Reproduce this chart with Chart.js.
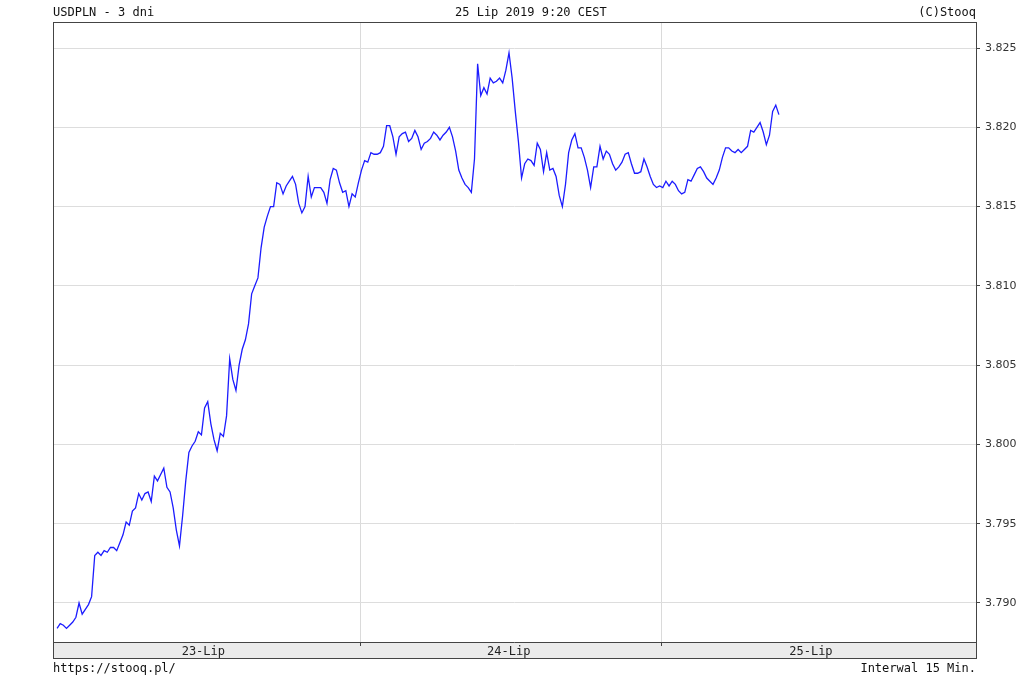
<!DOCTYPE html>
<html>
<head>
<meta charset="utf-8">
<script src="https://cdn.jsdelivr.net/npm/chart.js@4"></script>
<style>
body{margin:0;background:#fff;}
#wrap{position:relative;width:1024px;height:691px;}
#wrap canvas{position:absolute;left:0;top:0;}
.txt{position:absolute;font:12px "DejaVu Sans Mono",monospace;color:#111;white-space:nowrap;line-height:14px;}
</style>
</head>
<body>
<div id="wrap">
	<canvas id="usdpln_chart" width="1024" height="691"></canvas>
	<div class="txt" style="left:53px;top:5px">USDPLN - 3 dni</div>
	<div class="txt" style="left:455px;top:5px">25 Lip 2019 9:20 CEST</div>
	<div class="txt" style="right:48px;top:5px">(C)Stooq</div>
	<div class="txt" style="left:53px;top:661px">https://stooq.pl/</div>
	<div class="txt" style="right:48px;top:661px">Interwal 15 Min.</div>
</div>
<script>
// USDPLN - 3 dni, interwal 15 min (x = numer świecy)
const dayLabels = ['23-Lip', '24-Lip', '25-Lip'];
const dayLabelPos = [46.6, 143.9, 240.2];   // gdzie stoi etykieta dnia
const dayBreaks = [96.65, 192.65];          // granice dni
const yTicks = [3.790, 3.795, 3.800, 3.805, 3.810, 3.815, 3.820, 3.825];

const usdpln = [
	3.7884, 3.7887, 3.7886, 3.7884, 3.7886, 3.7888, 3.7891, 3.7900, 3.7893, 3.7896,
	3.7899, 3.7904, 3.7930, 3.7932, 3.7930, 3.7933, 3.7932, 3.7935, 3.7935, 3.7933,
	3.7938, 3.7943, 3.7951, 3.7949, 3.7958, 3.7960, 3.7969, 3.7965, 3.7969, 3.7970,
	3.7964, 3.7980, 3.7977, 3.7981, 3.7985, 3.7973, 3.7970, 3.7960, 3.7946, 3.7936,
	3.7955, 3.7977, 3.7995, 3.7999, 3.8002, 3.8008, 3.8006, 3.8023, 3.8027, 3.8013,
	3.8003, 3.7996, 3.8007, 3.8005, 3.8018, 3.8054, 3.8041, 3.8034, 3.8050, 3.8060,
	3.8066, 3.8076, 3.8095, 3.8100, 3.8105, 3.8124, 3.8137, 3.8144, 3.8150, 3.8150,
	3.8165, 3.8164, 3.8158, 3.8163, 3.8166, 3.8169, 3.8164, 3.8152, 3.8146, 3.8150,
	3.8169, 3.8156, 3.8162, 3.8162, 3.8162, 3.8159, 3.8152, 3.8167, 3.8174, 3.8173,
	3.8165, 3.8159, 3.8160, 3.8150, 3.8158, 3.8156, 3.8165, 3.8173, 3.8179, 3.8178,
	3.8184, 3.8183, 3.8183, 3.8184, 3.8188, 3.8201, 3.8201, 3.8194, 3.8183, 3.8194,
	3.8196, 3.8197, 3.8191, 3.8193, 3.8198, 3.8194, 3.8186, 3.8190, 3.8191, 3.8193,
	3.8197, 3.8195, 3.8192, 3.8195, 3.8197, 3.8200, 3.8194, 3.8185, 3.8173, 3.8168,
	3.8164, 3.8162, 3.8159, 3.8180, 3.8240, 3.8220, 3.8225, 3.8221, 3.8231, 3.8228,
	3.8229, 3.8231, 3.8228, 3.8236, 3.8247, 3.8231, 3.8210, 3.8191, 3.8168, 3.8177,
	3.8180, 3.8179, 3.8176, 3.8190, 3.8186, 3.8172, 3.8184, 3.8173, 3.8174, 3.8169,
	3.8157, 3.8150, 3.8164, 3.8184, 3.8192, 3.8196, 3.8187, 3.8187, 3.8181, 3.8173,
	3.8162, 3.8175, 3.8175, 3.8188, 3.8180, 3.8185, 3.8183, 3.8177, 3.8173, 3.8175,
	3.8178, 3.8183, 3.8184, 3.8177, 3.8171, 3.8171, 3.8172, 3.8180, 3.8175, 3.8169,
	3.8164, 3.8162, 3.8163, 3.8162, 3.8166, 3.8163, 3.8166, 3.8164, 3.8160, 3.8158,
	3.8159, 3.8167, 3.8166, 3.8170, 3.8174, 3.8175, 3.8172, 3.8168, 3.8166, 3.8164,
	3.8168, 3.8173, 3.8181, 3.8187, 3.8187, 3.8185, 3.8184, 3.8186, 3.8184, 3.8186,
	3.8188, 3.8198, 3.8197, 3.8200, 3.8203, 3.8197, 3.8189, 3.8195, 3.8210, 3.8214,
	3.8208
];

// ramka wykresu + szary pasek z datami
const stooqFrame = {
	id: 'stooqFrame',
	beforeDraw(chart) {
		const {ctx, chartArea: a, scales: {x}} = chart;
		ctx.save();
		ctx.fillStyle = '#ebebeb';
		ctx.fillRect(a.left, a.bottom, a.right - a.left, x.bottom - a.bottom);
		ctx.restore();
	},
	afterDraw(chart) {
		const {ctx, chartArea: a, scales: {x}} = chart;
		ctx.save();
		ctx.strokeStyle = '#444';
		ctx.lineWidth = 1;
		ctx.strokeRect(Math.round(a.left) + 0.5, Math.round(a.top) + 0.5,
			Math.round(a.right - a.left), Math.round(x.bottom - a.top));
		ctx.beginPath();
		ctx.moveTo(a.left, Math.round(a.bottom) + 0.5);
		ctx.lineTo(a.right, Math.round(a.bottom) + 0.5);
		ctx.stroke();
		ctx.restore();
	}
};

const isBreak = (v) => dayBreaks.includes(v);

const ctxLine = document.getElementById('usdpln_chart').getContext('2d');
const usdpln_chart = new Chart(ctxLine, {
	type: 'line',
	plugins: [stooqFrame],
	data: {
		datasets: [{
			label: 'USDPLN',
			data: usdpln.map((v, i) => ({x: i, y: v})),
			borderColor: 'rgb(28,28,255)',
			borderWidth: 1.3,
			pointRadius: 0,
			tension: 0,
			fill: false,
		}]
	},
	options: {
		responsive: false,
		animation: false,
		layout: {
			padding: {left: 53, top: 22, right: 0, bottom: 33}
		},
		scales: {
			x: {
				type: 'linear',
				min: -1.3,
				max: 292.8,
				afterBuildTicks: (scale) => {
					scale.ticks = [...dayLabelPos, ...dayBreaks].sort((a, b) => a - b).map(v => ({value: v}));
				},
				afterFit: (scale) => { scale.height = 16; },
				border: {display: false},
				grid: {
					color: (c) => (c.tick && isBreak(c.tick.value)) ? '#dadada' : 'rgba(0,0,0,0)',
					tickColor: (c) => (c.tick && isBreak(c.tick.value)) ? '#444' : 'rgba(0,0,0,0)',
					tickLength: 4,
				},
				ticks: {
					autoSkip: false,
					maxRotation: 0,
					padding: -1,
					color: '#222',
					font: {family: 'DejaVu Sans Mono', size: 12},
					callback: (v) => {
						const k = dayLabelPos.indexOf(v);
						return k >= 0 ? dayLabels[k] : '';
					}
				}
			},
			y: {
				position: 'right',
				min: 3.78754,
				max: 3.82664,
				afterBuildTicks: (scale) => {
					scale.ticks = yTicks.map(v => ({value: v}));
				},
				afterFit: (scale) => { scale.width = 48; },
				border: {display: false},
				grid: {
					color: '#dddddd',
					tickColor: '#444',
					tickLength: 4,
				},
				ticks: {
					padding: 5,
					color: '#333',
					font: {family: 'DejaVu Sans', size: 11},
					callback: (v) => v.toFixed(3)
				}
			}
		},
		plugins: {
			legend: {display: false},
			tooltip: {enabled: false},
			title: {display: false},
		}
	}
});
</script>
</body>
</html>
